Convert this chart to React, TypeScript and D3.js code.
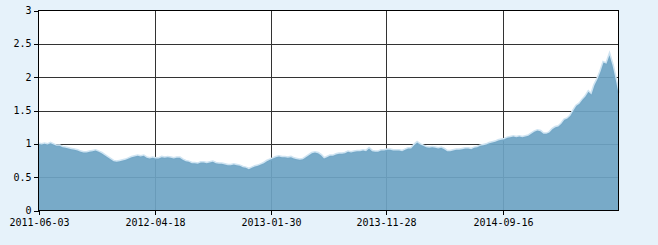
import React from "react";
import * as d3 from "d3";

const values: number[] = [
  1.0, 0.99, 1.0, 0.99, 1.01, 0.99, 0.97, 0.97, 0.95, 0.94,
  0.93, 0.92, 0.91, 0.9, 0.88, 0.87, 0.87, 0.88, 0.89, 0.9,
  0.88, 0.86, 0.83, 0.8, 0.77, 0.74, 0.73, 0.74, 0.75, 0.76,
  0.78, 0.8, 0.81, 0.82, 0.81, 0.82, 0.79, 0.78, 0.79, 0.78,
  0.78, 0.8, 0.79, 0.8, 0.79, 0.78, 0.79, 0.79, 0.76, 0.74,
  0.73, 0.71, 0.71, 0.7, 0.72, 0.72, 0.71, 0.72, 0.73, 0.71,
  0.7, 0.7, 0.69, 0.68, 0.68, 0.69, 0.68, 0.67, 0.65, 0.64,
  0.62, 0.64, 0.66, 0.67, 0.69, 0.71, 0.74, 0.76, 0.78, 0.8,
  0.81, 0.8, 0.8, 0.79, 0.8, 0.78, 0.77, 0.76, 0.77, 0.8,
  0.83, 0.86, 0.87, 0.86, 0.83, 0.78, 0.8, 0.82, 0.82, 0.84,
  0.85, 0.85, 0.86, 0.88, 0.87, 0.88, 0.89, 0.89, 0.9, 0.89,
  0.93, 0.89, 0.88, 0.88, 0.9, 0.9, 0.91, 0.91, 0.9, 0.9,
  0.9, 0.89, 0.91, 0.93, 0.93, 0.98, 1.02, 0.99, 0.97, 0.95,
  0.94, 0.95, 0.94, 0.93, 0.94, 0.92, 0.89, 0.89, 0.9, 0.91,
  0.91, 0.92, 0.93, 0.93, 0.92, 0.94, 0.95, 0.97, 0.98, 0.99,
  1.01, 1.02, 1.03, 1.05, 1.06, 1.07, 1.09, 1.1, 1.11, 1.1,
  1.11, 1.1, 1.11, 1.12, 1.15, 1.18, 1.2, 1.19, 1.15, 1.15,
  1.17, 1.22, 1.25, 1.26, 1.3, 1.36, 1.38, 1.42, 1.5, 1.57,
  1.6, 1.66, 1.71, 1.78, 1.74, 1.88, 1.97, 2.08, 2.22, 2.2,
  2.33, 2.18, 1.98, 1.76,
];

const xTickLabels: string[] = [
  "2011-06-03",
  "2012-04-18",
  "2013-01-30",
  "2013-11-28",
  "2014-09-16",
];

const yTicks: number[] = [0, 0.5, 1, 1.5, 2, 2.5, 3];

const W = 658;
const H = 245;
const L = 38.5;
const R = 618.5;
const T = 10.5;
const B = 210.5;

export default function App() {
  const n = values.length;
  const x = d3.scaleLinear().domain([0, n - 1]).range([L, R]);
  const y = d3.scaleLinear().domain([0, 3]).range([B, T]);
  const area = d3
    .area<number>()
    .x((_, i) => x(i))
    .y0(B)
    .y1((d) => y(d));
  const line = d3
    .line<number>()
    .x((_, i) => x(i))
    .y((d) => y(d));
  const xTickPos = xTickLabels.map((_, i) => Math.round(x((i * (n - 1)) / 5)) + 0.5);
  const font = "'DejaVu Sans Mono', monospace";
  return (
    <svg
      width={W}
      height={H}
      style={{ position: "fixed", left: 0, top: 0, display: "block" }}
    >
      <rect x={0} y={0} width={W} height={H} fill="#e6f2fa" />
      <rect x={L} y={T} width={R - L} height={B - T} fill="#ffffff" />
      {yTicks.slice(1, -1).map((t) => (
        <line
          key={"gy" + t}
          x1={L}
          x2={R}
          y1={Math.round(y(t)) + 0.5}
          y2={Math.round(y(t)) + 0.5}
          stroke="#333333"
          strokeWidth={1}
          shapeRendering="crispEdges"
        />
      ))}
      {xTickPos.slice(1).map((p, i) => (
        <line
          key={"gx" + i}
          x1={p}
          x2={p}
          y1={T}
          y2={B}
          stroke="#333333"
          strokeWidth={1}
          shapeRendering="crispEdges"
        />
      ))}
      <path d={line(values) || ""} fill="none" stroke="#cfe4f2" strokeWidth={3} />
      <path d={area(values) || ""} fill="#6ea4c4" fillOpacity={0.93} />
      <rect
        x={L}
        y={T}
        width={R - L}
        height={B - T}
        fill="none"
        stroke="#000000"
        strokeWidth={1}
        shapeRendering="crispEdges"
      />
      {yTicks.map((t) => (
        <g key={"ty" + t}>
          <line
            x1={L - 5}
            x2={L}
            y1={Math.round(y(t)) + 0.5}
            y2={Math.round(y(t)) + 0.5}
            stroke="#000"
            shapeRendering="crispEdges"
          />
          <text
            x={L - 7}
            y={y(t)}
            dy="0.35em"
            textAnchor="end"
            fontFamily={font}
            fontSize={10}
            fill="#000"
          >
            {String(t)}
          </text>
        </g>
      ))}
      {xTickLabels.map((lab, i) => (
        <g key={"tx" + i}>
          <line
            x1={xTickPos[i]}
            x2={xTickPos[i]}
            y1={B}
            y2={B + 4}
            stroke="#000"
            shapeRendering="crispEdges"
          />
          <text
            x={xTickPos[i]}
            y={B + 15.5}
            textAnchor="middle"
            fontFamily={font}
            fontSize={10}
            fill="#000"
          >
            {lab}
          </text>
        </g>
      ))}
    </svg>
  );
}
